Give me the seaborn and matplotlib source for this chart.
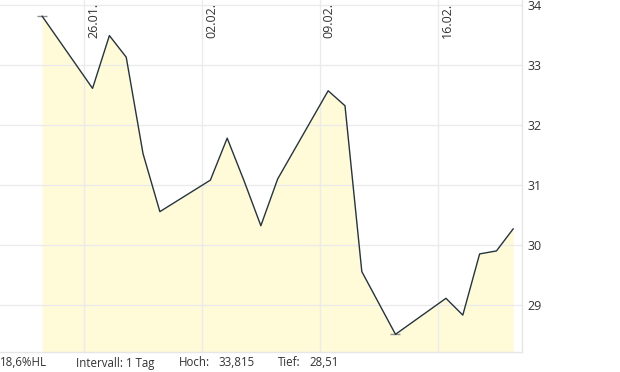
import matplotlib
matplotlib.use("Agg")
import matplotlib.pyplot as plt
import matplotlib.dates as mdates
from matplotlib.transforms import offset_copy
import seaborn as sns
import pandas as pd
import numpy as np

# ---- data ----
dates = ["2026-01-23 12:00", "2026-01-26 12:00", "2026-01-27 12:00", "2026-01-28 12:00",
         "2026-01-29 12:00", "2026-01-30 12:00", "2026-02-02 12:00", "2026-02-03 12:00",
         "2026-02-04 12:00", "2026-02-05 12:00", "2026-02-06 12:00", "2026-02-09 12:00",
         "2026-02-10 12:00", "2026-02-11 12:00", "2026-02-13 12:00", "2026-02-16 12:00",
         "2026-02-17 12:00", "2026-02-18 12:00", "2026-02-19 12:00", "2026-02-20 12:00"]
prices = [33.815, 32.61, 33.49, 33.13, 31.52, 30.555, 31.08, 31.78, 31.07, 30.32,
          31.10, 32.57, 32.32, 29.555, 28.51, 29.11, 28.83, 29.85, 29.90, 30.27]
tick_dates = ["2026-01-26", "2026-02-02", "2026-02-09", "2026-02-16"]
tick_labels = ["26.01.", "02.02.", "09.02.", "16.02."]
y_ticks = [29, 30, 31, 32, 33, 34]
footer_texts = ["18,6%HL", "Intervall: 1 Tag", "Hoch:", "33,815", "Tief:", "28,51"]

df = pd.DataFrame({"date": pd.to_datetime(dates), "price": prices})

sns.set_theme(style="white")
plt.rcParams["font.family"] = ["Open Sans", "DejaVu Sans"]

fig = plt.figure(figsize=(6.2, 3.72), dpi=100)
ax = fig.add_axes([0.0, 19.7 / 372, 521.7 / 620, 352.3 / 372])

x_lo, x_hi = pd.Timestamp("2026-01-21"), pd.Timestamp("2026-02-21")
y_lo, y_hi = 28.21, 34.083

ax.fill_between(df["date"], df["price"], y_lo, color="#fffad8", lw=0, zorder=0.3)
sns.lineplot(data=df, x="date", y="price", ax=ax, color="#26343c", lw=1.0, zorder=3)

# high / low markers
i_hi, i_lo = int(np.argmax(prices)), int(np.argmin(prices))
ax.plot(df["date"].iloc[[i_hi, i_lo]], df["price"].iloc[[i_hi, i_lo]], ls="none",
        marker="_", markersize=7.5, markeredgewidth=1.0, color="#909090", zorder=2.5)

ax.set_xlim(x_lo, x_hi)
ax.set_ylim(y_lo, y_hi)

ax.set_xticks(pd.to_datetime(tick_dates))
ax.set_xticklabels([])
ax.set_yticks(y_ticks)
ax.yaxis.tick_right()
ax.tick_params(axis="both", length=0)
ax.tick_params(axis="y", labelsize=9, labelcolor="#333333", pad=4)
ax.set_xlabel("")
ax.set_ylabel("")

ax.set_axisbelow(True)
ax.grid(True, color="#ebebeb", lw=1.0)
for g in ax.get_xgridlines() + ax.get_ygridlines():
    g.set_zorder(0.5)

for s in ["left", "top"]:
    ax.spines[s].set_visible(False)
for s in ["right", "bottom"]:
    ax.spines[s].set_color("#e6e6e6")
    ax.spines[s].set_linewidth(1.0)

trans = offset_copy(ax.get_xaxis_transform(), fig=fig, x=9.5, y=-3, units="dots")
for d, lab in zip(tick_dates, tick_labels):
    ax.text(mdates.date2num(pd.Timestamp(d)), 1.0, lab, transform=trans, rotation=90,
            ha="center", va="top", fontsize=9, color="#333333")

footer_x = [0, 76, 179, 218, 278, 309]
for xp, t in zip(footer_x, footer_texts):
    fig.text(xp / 620, 1 - 363 / 372, t, ha="left", va="center", fontsize=8.3, color="#333333")

fig.savefig("out.png", dpi=100)
